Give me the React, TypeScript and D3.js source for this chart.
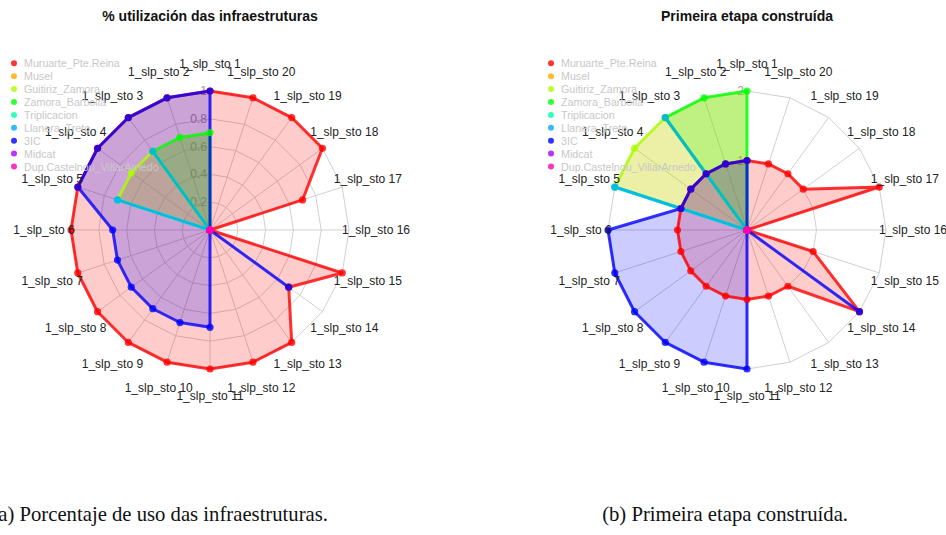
import React from "react";
import * as d3 from "d3";

const CATEGORIES = [
  "1_slp_sto 1", "1_slp_sto 2", "1_slp_sto 3", "1_slp_sto 4", "1_slp_sto 5",
  "1_slp_sto 6", "1_slp_sto 7", "1_slp_sto 8", "1_slp_sto 9", "1_slp_sto 10",
  "1_slp_sto 11", "1_slp_sto 12", "1_slp_sto 13", "1_slp_sto 14", "1_slp_sto 15",
  "1_slp_sto 16", "1_slp_sto 17", "1_slp_sto 18", "1_slp_sto 19", "1_slp_sto 20",
];

const SERIES_NAMES = [
  "Muruarte_Pte.Reina", "Musel", "Guitiriz_Zamora", "Zamora_Barbolla", "Triplicacion",
  "Llanera_Treto", "3IC", "Midcat", "Dup.Castelnou_VillarArnedo",
];
const SERIES_COLORS = [
  "#FF0000", "#FFAA00", "#AAFF00", "#00FF00", "#00FFAA",
  "#00AAFF", "#0000FF", "#AA00FF", "#FF00AA",
];
const FILL_COLORS = [
  "rgba(255,0,0,0.2)", "rgba(255,170,0,0.2)", "rgba(200,210,0,0.35)", "rgba(122,224,0,0.49)",
  "rgba(0,255,170,0.2)", "rgba(0,170,255,0.2)", "rgba(0,0,255,0.2)", "rgba(170,0,255,0.2)",
  "rgba(255,0,170,0.2)",
];

// (a) % utilización das infraestruturas
const A_MURUARTE = [1, 1, 1, 1, 1, 1, 1, 1, 1, 1, 1, 1, 1, 0.7, 1, 0, 0.7, 1, 1, 1];
const A_MUSEL = [0, 0, 0, 0, 0, 0, 0, 0, 0, 0, 0, 0, 0, 0, 0, 0, 0, 0, 0, 0];
const A_GUITIRIZ = [0, 0, 0.7, 0.7, 0.7, 0, 0, 0, 0, 0, 0, 0, 0, 0, 0, 0, 0, 0, 0, 0];
const A_ZAMORA = [0.7, 0.7, 0.7, 0, 0, 0, 0, 0, 0, 0, 0, 0, 0, 0, 0, 0, 0, 0, 0, 0];
const A_TRIPLICACION = [0, 0, 0, 0, 0.7, 0, 0, 0, 0, 0, 0, 0, 0, 0, 0, 0, 0, 0, 0, 0];
const A_LLANERA = [0, 0, 0.7, 0, 0.7, 0, 0, 0, 0, 0, 0, 0, 0, 0, 0, 0, 0, 0, 0, 0];
const A_3IC = [1, 1, 1, 1, 1, 0.7, 0.7, 0.7, 0.7, 0.7, 0.7, 0, 0, 0.7, 0, 0, 0, 0, 0, 0];
const A_MIDCAT = [0, 0, 0, 0, 0, 0, 0, 0, 0, 0, 0, 0, 0, 0, 0, 0, 0, 0, 0, 0];
const A_DUP = [0, 0, 0, 0, 0, 0, 0, 0, 0, 0, 0, 0, 0, 0, 0, 0, 0, 0, 0, 0];
const A_TICKS = [0.2, 0.4, 0.6, 0.8, 1];
const A_MAX = 1;

// (b) Primeira etapa construída
const B_MURUARTE = [1, 1, 1, 1, 1, 1, 1, 1, 1, 1, 1, 1, 1, 2, 1, 0, 2, 1, 1, 1];
const B_MUSEL = [0, 0, 0, 0, 0, 0, 0, 0, 0, 0, 0, 0, 0, 0, 0, 0, 0, 0, 0, 0];
const B_GUITIRIZ = [0, 0, 2, 2, 2, 0, 0, 0, 0, 0, 0, 0, 0, 0, 0, 0, 0, 0, 0, 0];
const B_ZAMORA = [2, 2, 2, 0, 0, 0, 0, 0, 0, 0, 0, 0, 0, 0, 0, 0, 0, 0, 0, 0];
const B_TRIPLICACION = [0, 0, 0, 0, 2, 0, 0, 0, 0, 0, 0, 0, 0, 0, 0, 0, 0, 0, 0, 0];
const B_LLANERA = [0, 0, 2, 0, 2, 0, 0, 0, 0, 0, 0, 0, 0, 0, 0, 0, 0, 0, 0, 0];
const B_3IC = [1, 1, 1, 1, 1, 2, 2, 2, 2, 2, 2, 0, 0, 2, 0, 0, 0, 0, 0, 0];
const B_MIDCAT = [0, 0, 0, 0, 0, 0, 0, 0, 0, 0, 0, 0, 0, 0, 0, 0, 0, 0, 0, 0];
const B_DUP = [0, 0, 0, 0, 0, 0, 0, 0, 0, 0, 0, 0, 0, 0, 0, 0, 0, 0, 0, 0];
const B_TICKS = [1, 2];
const B_MAX = 2;

const TITLE_A = "% utilización das infraestruturas";
const TITLE_B = "Primeira etapa construída";
const CAPTION_A = "(a) Porcentaje de uso das infraestruturas.";
const CAPTION_B = "(b) Primeira etapa construída.";

const SANS = "'Liberation Sans', Arial, sans-serif";
const SERIF = "'Liberation Serif', 'Times New Roman', serif";

type RadarProps = {
  cx: number;
  cy: number;
  title: string;
  series: number[][];
  max: number;
  ticks: number[];
};

function Radar({ cx, cy, title, series, max, ticks }: RadarProps) {
  const R = 139;
  const n = CATEGORIES.length;
  const r = d3.scaleLinear().domain([0, max]).range([0, R]);
  const ang = d3.scaleLinear().domain([0, n]).range([0, -2 * Math.PI]);
  const idx = d3.range(n);

  const ringPath = (v: number) =>
    d3
      .lineRadial<number>()
      .angle((i) => ang(i))
      .radius(() => r(v))
      .curve(d3.curveLinearClosed)(idx) as string;

  const seriesPath = (vals: number[]) =>
    d3
      .lineRadial<number>()
      .angle((_, i) => ang(i))
      .radius((d) => r(d))
      .curve(d3.curveLinearClosed)(vals) as string;

  const px = (i: number, rad: number) => rad * Math.sin(ang(i));
  const py = (i: number, rad: number) => -rad * Math.cos(ang(i));

  return (
    <g>
      <text
        x={cx}
        y={20.5}
        textAnchor="middle"
        fontFamily={SANS}
        fontWeight="bold"
        fontSize={14}
        fill="#111"
      >
        {title}
      </text>
      <g transform={`translate(${cx},${cy})`}>
        {ticks.map((t) => (
          <path key={"ring" + t} d={ringPath(t)} fill="none" stroke="#d0d0d0" strokeWidth={1} />
        ))}
        {idx.map((i) => (
          <line
            key={"spoke" + i}
            x1={0}
            y1={0}
            x2={px(i, R)}
            y2={py(i, R)}
            stroke="#d0d0d0"
            strokeWidth={1}
          />
        ))}
        {ticks.map((t) => (
          <text
            key={"tl" + t}
            x={-3}
            y={-r(t)}
            textAnchor="end"
            dominantBaseline="central"
            fontFamily={SANS}
            fontSize={12}
            fill="#999"
          >
            {String(t)}
          </text>
        ))}
        {series.map((vals, s) => (
          <path key={"fill" + s} d={seriesPath(vals)} fill={FILL_COLORS[s]} stroke="none" />
        ))}
        {series.map((vals, s) => (
          <path
            key={"line" + s}
            d={seriesPath(vals)}
            fill="none"
            stroke={SERIES_COLORS[s]}
            strokeOpacity={0.8}
            strokeWidth={3}
            strokeLinejoin="round"
          />
        ))}
        {series.map((vals, s) => (
          <g key={"mk" + s}>
            {vals.map((v, i) => (
              <circle
                key={i}
                cx={px(i, r(v))}
                cy={py(i, r(v))}
                r={3.6}
                fill={SERIES_COLORS[s]}
                fillOpacity={0.8}
              />
            ))}
          </g>
        ))}
        {CATEGORIES.map((c, i) => (
          <text
            key={"cat" + i}
            x={px(i, 166)}
            y={py(i, 166)}
            textAnchor="middle"
            dominantBaseline="central"
            fontFamily={SANS}
            fontSize={12}
            fill="#222"
          >
            {c}
          </text>
        ))}
      </g>
      <g transform={`translate(${cx - 196},63.3)`}>
        {SERIES_NAMES.map((name, s) => (
          <g key={"lg" + s} transform={`translate(0,${s * 12.9})`}>
            <circle cx={0} cy={0} r={3} fill={SERIES_COLORS[s]} fillOpacity={0.8} />
            <text
              x={10}
              y={0}
              dominantBaseline="central"
              fontFamily={SANS}
              fontSize={10.7}
              fill="#c8c8c8"
            >
              {name}
            </text>
          </g>
        ))}
      </g>
    </g>
  );
}

export default function App() {
  const seriesA = [A_MURUARTE, A_MUSEL, A_GUITIRIZ, A_ZAMORA, A_TRIPLICACION, A_LLANERA, A_3IC, A_MIDCAT, A_DUP];
  const seriesB = [B_MURUARTE, B_MUSEL, B_GUITIRIZ, B_ZAMORA, B_TRIPLICACION, B_LLANERA, B_3IC, B_MIDCAT, B_DUP];
  return (
    <svg
      width={946}
      height={535}
      style={{ position: "absolute", left: 0, top: 0, background: "#fff" }}
    >
      <rect width={946} height={535} fill="#fff" />
      <Radar cx={210} cy={230} title={TITLE_A} series={seriesA} max={A_MAX} ticks={A_TICKS} />
      <Radar cx={747} cy={230} title={TITLE_B} series={seriesB} max={B_MAX} ticks={B_TICKS} />
      <text x={328} y={521} textAnchor="end" fontFamily={SERIF} fontSize={20.7} fill="#111">
        {CAPTION_A}
      </text>
      <text x={848} y={521} textAnchor="end" fontFamily={SERIF} fontSize={20.7} fill="#111">
        {CAPTION_B}
      </text>
    </svg>
  );
}
